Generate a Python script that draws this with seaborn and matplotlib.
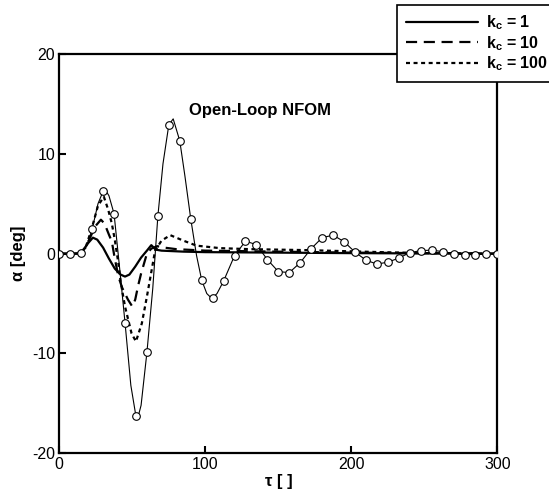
import numpy as np
import pandas as pd
import matplotlib
matplotlib.use("Agg")
import matplotlib.pyplot as plt
import seaborn as sns

# ---------------- data ----------------
# open-loop markers
ol_marker_tau = [0, 7.5, 15, 22.5, 30, 37.5, 45, 52.5, 60, 67.5, 75, 82.5, 90, 97.5,
                 105, 112.5, 120, 127.5, 135, 142.5, 150, 157.5, 165, 172.5, 180,
                 187.5, 195, 202.5, 210, 217.5, 225, 232.5, 240, 247.5, 255, 262.5,
                 270, 277.5, 285, 292.5, 300]
ol_marker_alpha = [0, 0, 0.1, 2.45, 6.25, 4.0, -6.9, -16.3, -9.9, 3.75, 12.9, 11.3, 3.5,
                   -2.65, -4.4, -2.75, -0.2, 1.25, 0.9, -0.6, -1.8, -1.9, -0.9, 0.5, 1.6,
                   1.85, 1.2, 0.15, -0.65, -1.05, -0.85, -0.45, 0.1, 0.3, 0.35, 0.2,
                   0.0, -0.1, -0.1, -0.05, 0]

# open-loop thin line
ol_line_tau = [0, 7.5, 15, 18.5, 22.5, 26.5, 30, 31.5, 34, 37.5, 41, 45, 49, 52.5, 53.5,
               56, 60, 64, 67.5, 71, 75, 78, 82.5, 86, 90, 94, 97.5, 101, 104.5, 108,
               112.5, 120, 127.5, 135, 142.5, 150, 157.5, 165, 172.5, 180, 187.5, 195,
               202.5, 210, 217.5, 225, 232.5, 240, 247.5, 255, 262.5, 270, 277.5, 285,
               292.5, 300]
ol_line_alpha = [0, 0, 0.1, 0.7, 2.45, 5.0, 6.25, 6.4, 5.8, 4.0, -1.0, -6.9, -13.2, -16.3,
                 -16.6, -15.2, -9.9, -3.5, 3.75, 9.0, 12.9, 13.5, 11.3, 7.8, 3.5, -0.2,
                 -2.65, -4.0, -4.5, -4.0, -2.75, -0.2, 1.25, 0.9, -0.6, -1.8, -1.9, -0.9,
                 0.5, 1.6, 1.85, 1.2, 0.15, -0.65, -1.05, -0.85, -0.45, 0.1, 0.3, 0.35,
                 0.2, 0.0, -0.1, -0.1, -0.05, 0]

kc1_tau = [0, 12, 16, 20, 23, 26, 30, 34, 38, 42, 45, 48, 52, 56, 60, 63, 66, 70, 85,
           100, 150, 200, 250, 300]
kc1_alpha = [0, 0, 0.3, 1.1, 1.6, 1.4, 0.6, -0.5, -1.5, -2.1, -2.3, -2.1, -1.3, -0.4,
             0.3, 0.85, 0.4, 0.3, 0.2, 0.15, 0.1, 0.05, 0.02, 0]

kc10_tau = [0, 14, 18, 22, 25, 28.5, 31, 34, 36, 38, 40.5, 43, 47, 50, 52, 54, 56, 58,
            60, 63, 67, 72, 80, 100, 150, 200, 250, 300]
kc10_alpha = [0, 0, 0.6, 1.9, 2.8, 3.4, 3.0, 1.9, 1.2, -0.5, -2.3, -3.4, -4.6, -5.3,
              -4.6, -3.2, -2.0, -1.0, 0.0, 0.5, 0.75, 0.6, 0.45, 0.3, 0.2, 0.1, 0.05, 0]

kc100_tau = [0, 14, 18, 22, 26.5, 30.5, 33.5, 36, 38, 40.5, 42, 45, 49.5, 52.5, 56.5,
             60, 63.3, 65.6, 70, 76, 85, 94, 110, 130, 170, 220, 250, 300]
kc100_alpha = [0, 0, 0.6, 2.4, 4.8, 5.7, 4.4, 3.0, 1.4, -1.0, -2.8, -5.3, -8.0, -8.8,
               -7.0, -4.3, -1.6, 0.3, 1.3, 1.85, 1.3, 0.8, 0.55, 0.45, 0.35, 0.15, 0.05, 0]

kc_labels = ["1", "10", "100"]
x_ticks = [0, 100, 200, 300]
y_ticks = [-20, -10, 0, 10, 20]

# ---------------- style ----------------
sns.set_style("ticks")
plt.rcParams["font.family"] = ["Liberation Sans", "DejaVu Sans"]
plt.rcParams["mathtext.fontset"] = "custom"
plt.rcParams["mathtext.bf"] = "Liberation Sans:bold"
plt.rcParams["mathtext.rm"] = "Liberation Sans"
plt.rcParams["axes.unicode_minus"] = False
for key in ["text.color", "axes.labelcolor", "xtick.color", "ytick.color",
            "axes.edgecolor"]:
    plt.rcParams[key] = "black"

kc_df = pd.concat([
    pd.DataFrame({"tau": kc1_tau, "alpha": kc1_alpha, "kc": kc_labels[0]}),
    pd.DataFrame({"tau": kc10_tau, "alpha": kc10_alpha, "kc": kc_labels[1]}),
    pd.DataFrame({"tau": kc100_tau, "alpha": kc100_alpha, "kc": kc_labels[2]}),
], ignore_index=True)
ol_line = pd.DataFrame({"tau": ol_line_tau, "alpha": ol_line_alpha})
ol_mark = pd.DataFrame({"tau": ol_marker_tau, "alpha": ol_marker_alpha})

fig = plt.figure(figsize=(5.49, 4.98), dpi=100)
ax = fig.add_axes([0.108, 0.0898, 0.798, 0.8018])

sns.lineplot(data=kc_df, x="tau", y="alpha", style="kc", color="black",
             linewidth=1.6, dashes={"1": "", "10": (5, 3), "100": (1.8, 1.6)},
             sort=False, estimator=None, ax=ax, legend=True)
sns.lineplot(data=ol_line, x="tau", y="alpha", color="black", linewidth=0.8,
             sort=False, estimator=None, ax=ax, legend=False)
sns.scatterplot(data=ol_mark, x="tau", y="alpha", marker="o", s=30,
                facecolor="white", edgecolor="black", linewidth=0.8, zorder=5,
                ax=ax, legend=False)

handles, labels = ax.get_legend_handles_labels()
ax.get_legend().remove()
leg_labels = [r"k$_\mathbf{c}$ = " + l for l in labels]
leg = fig.legend(handles, leg_labels, loc="upper left",
                 bbox_to_anchor=(397 / 549, 1 - 5 / 498), borderaxespad=0,
                 frameon=True, fancybox=False, edgecolor="black", framealpha=1,
                 handlelength=4.5, handletextpad=0.5, borderpad=0.55,
                 labelspacing=0.1, prop={"weight": "bold", "size": 11.5})
leg.get_frame().set_linewidth(1.2)

ax.set_xlim(0, 300)
ax.set_ylim(-20, 20)
ax.set_xticks(x_ticks)
ax.set_yticks(y_ticks)
ax.tick_params(direction="in", length=5, width=1.5, labelsize=11.5, pad=3)
for s in ax.spines.values():
    s.set_linewidth(1.6)
    s.set_visible(True)

ax.set_xlabel("τ [ ]", fontsize=12, fontweight="bold", labelpad=1)
ax.set_ylabel("α [deg]", fontsize=12, fontweight="bold", labelpad=4)

ax.text(137.6, 13.9, "Open-Loop NFOM", fontsize=12, fontweight="bold",
        ha="center", va="baseline")

fig.savefig("out.png", dpi=100)
